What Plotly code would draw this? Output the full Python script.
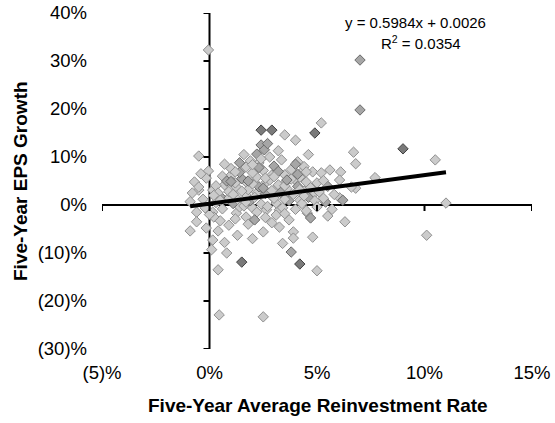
import plotly.graph_objects as go

# Five-year average reinvestment rate (%), five-year EPS growth (%), tone (0 light, 1 medium, 2 dark)
reinvestment_rate = [
    -0.05, 7.0, 7.0, 2.4, 2.9, 3.5, 4.0, 5.2, 4.9, 2.4, 2.55, 2.8, -0.5, 0.7, 1.6, 1.7, 6.7, 6.8, 7.7,
    9.0, 10.5, 11.0, 10.1, -0.05, -0.15, -0.7, 0.15, -0.5, 1.0, 0.7, 2.3, 2.2, 1.7, 1.25, 2.65, 2.9, 3.0,
    2.2, 1.7, 0.9, 3.35, 4.1, 4.3, 4.8, 5.2, 5.6, 6.1, 6.05, 6.8, 3.5, 4.0, 4.5, 5.0, 3.6, 4.2,
    5.4, 6.05, 4.8, -0.8, -0.5, -0.6, 0.15, -0.6, -0.9, -0.15, 0.4, 0.15, 0.8, 1.5, 0.4, 0.45, 2.5,
    2.5, 1.25, 1.7, 1.4, 2.0, 2.65, 3.25, 3.25, 3.7, 3.9, 3.9, 4.55, 4.7, 5.5, 6.3, 4.8, 3.4, 3.8,
    4.2, 5.0, 6.2, 6.6,
    0.3, 0.5, 0.6, 0.9, 1.1, 1.2, 1.3, 1.5, 1.6, 1.8,
    1.9, 2.0, 2.1, 2.2, 2.3, 2.4, 2.5, 2.6, 2.7, 2.8,
    2.9, 3.0, 3.1, 3.2, 3.3, 3.4, 3.5, 3.6, 3.7, 3.8,
    3.9, 4.0, 4.1, 4.2, 4.3, 4.4, 4.5, 4.6, 4.7, 4.9,
    5.0, 5.1, 5.3, 5.5, 5.7, 5.8, 0.2, 0.5, 0.9, 1.2,
    1.8, 2.1, 2.6, 2.9, 3.1, 3.5, 0.3, 0.6, 0.4, 1.0,
    1.4, -0.3, -0.2, 0.0, -0.4, -0.9, 1.9, 2.2, 3.2, 2.7,
    4.4, 4.6, 1.3, 0.7, 0.1, 2.0,
    0.8, 1.1, 1.4, 1.7, 2.0, 2.3, 2.6, 2.9, 3.2, 3.5,
    3.8, 4.1, 4.4, 0.5, 1.0, 1.5, 2.0, 2.5, 3.0, 3.5,
    4.0, 4.5, 1.2, 1.8, 2.4, 3.0, 3.6, 4.2, 0.2, 5.3,
]
eps_growth = [
    32.3, 30.2, 19.8, 15.6, 15.6, 14.6, 13.5, 17.1, 15.0, 12.5, 11.5, 10.0, 10.2, 8.5, 10.5, 7.9, 11.0, 8.6, 5.7,
    11.7, 9.4, 0.4, -6.3, 7.1, 5.6, 4.8, 3.1, 3.1, 6.2, 4.2, 8.75, 5.8, 4.8, 3.75, 4.8, 6.25, 3.1,
    2.5, 2.1, 1.5, 9.4, 9.0, 6.9, 6.9, 6.7, 7.3, 6.9, 5.2, 3.5, 4.6, 5.2, 4.8, 4.6, 1.7, 1.0,
    0.6, 1.5, 2.1, 2.5, 3.75, -1.5, -1.5, -3.5, -5.4, -4.8, -5.4, -7.3, -10.0, -11.9, -13.5, -22.9, -23.3,
    -5.6, -1.7, -2.5, -0.4, -0.6, -1.0, -1.0, -4.6, -3.1, -5.6, -6.9, -1.7, -2.7, -2.3, -3.5, -6.7, -8.0, -9.8,
    -12.3, -13.7, 1.0, 3.75,
    0.5, 1.8, -0.8, 2.8, 0.3, 4.6, 1.2, 5.5, -0.2, 3.2,
    0.9, 6.7, 1.6, -1.5, 3.8, 0.2, 7.2, 2.4, -0.3, 5.2,
    1.8, 8.1, 0.4, 4.2, 2.6, -0.6, 6.3, 3.4, 0.9, 7.4,
    2.2, -0.9, 3.9, 5.8, 0.3, 2.9, -1.2, 1.6, 3.6, 0.9,
    -0.4, 2.7, 1.4, 3.9, -0.9, 2.2, -2.5, -3.3, -4.2, -2.9,
    -4.0, -3.1, -2.6, -3.7, -2.1, -1.8, 4.0, 6.0, 2.5, 7.6,
    8.8, 1.2, -0.6, -2.0, 6.5, 0.7, 9.2, 10.6, 11.3, 12.8,
    8.0, 10.5, -6.3, -7.8, -9.3, -7.0,
    5.0, 2.2, 6.8, 0.6, 4.4, 7.8, 5.6, 3.0, 7.0, 4.0,
    5.4, 6.4, 1.9, 1.0, 4.9, 2.9, 8.4, 3.5, 5.9, 1.2,
    8.5, 6.9, 6.9, 5.0, 9.6, 1.4, 5.2, 3.2, 2.0, 5.1,
]
tone = [
    0, 1, 1, 2, 2, 0, 0, 0, 2, 1, 1, 0, 0, 0, 0, 0, 0, 0, 0,
    2, 0, 0, 0, 0, 0, 0, 0, 0, 0, 0, 0, 0, 0, 0, 0, 0, 0,
    0, 0, 0, 0, 0, 0, 0, 0, 0, 0, 0, 0, 0, 0, 0, 0, 0, 0,
    1, 0, 0, 0, 0, 0, 0, 0, 0, 0, 0, 0, 0, 2, 0, 0, 0,
    0, 0, 0, 0, 0, 0, 0, 0, 0, 0, 0, 0, 1, 0, 0, 0, 0, 1,
    2, 0, 1, 0,
    0, 1, 0, 0, 1, 0, 0, 1, 0, 0,
    1, 0, 0, 0, 1, 0, 0, 1, 0, 0,
    0, 1, 0, 0, 1, 0, 0, 0, 1, 0,
    0, 0, 1, 0, 0, 0, 0, 1, 0, 0,
    0, 0, 0, 1, 0, 0, 0, 0, 0, 0,
    0, 1, 0, 0, 0, 0, 0, 0, 0, 0,
    1, 0, 0, 0, 0, 0, 0, 1, 0, 1,
    0, 0, 0, 0, 0, 0,
    1, 0, 1, 0, 0, 1, 0, 0, 1, 0,
    0, 1, 0, 0, 1, 0, 0, 1, 0, 0,
    1, 0, 0, 1, 0, 0, 1, 0, 0, 0,
]

slope = 0.5984
intercept = 0.0026
r_squared = 0.0354

x_ticks = [-5, 0, 5, 10, 15]
x_tick_labels = ["(5)%", "0%", "5%", "10%", "15%"]
y_ticks = [-30, -20, -10, 0, 10, 20, 30, 40]
y_tick_labels = ["(30)%", "(20)%", "(10)%", "0%", "10%", "20%", "30%", "40%"]

fill_colors = ["#cbcbcb", "#a6a6a6", "#7a7a7a"]
edge_colors = ["#8f8f8f", "#6a6a6a", "#404040"]

FONT = "Liberation Sans, Arial, sans-serif"

n = min(len(reinvestment_rate), len(eps_growth), len(tone))

fig = go.Figure()

fig.add_trace(go.Scatter(
    x=reinvestment_rate[:n], y=eps_growth[:n], mode="markers",
    marker=dict(symbol="diamond", size=8,
                color=[fill_colors[t] for t in tone[:n]],
                line=dict(color=[edge_colors[t] for t in tone[:n]], width=1)),
    hoverinfo="skip", showlegend=False,
))

x_lo, x_hi = min(reinvestment_rate), max(reinvestment_rate)
fig.add_trace(go.Scatter(
    x=[x_lo, x_hi],
    y=[slope * x_lo + intercept * 100, slope * x_hi + intercept * 100],
    mode="lines", line=dict(color="black", width=4),
    hoverinfo="skip", showlegend=False,
))

shapes = [
    dict(type="line", xref="x", yref="y", x0=x_ticks[0], x1=x_ticks[-1], y0=0, y1=0,
         line=dict(color="black", width=2), layer="below"),
    dict(type="line", xref="x", yref="y", x0=0, x1=0, y0=y_ticks[0], y1=y_ticks[-1],
         line=dict(color="black", width=2), layer="below"),
]
for t in x_ticks:
    shapes.append(dict(type="line", xref="x", yref="y", x0=t, x1=t,
                       ysizemode="pixel", yanchor=0, y0=0, y1=-6,
                       line=dict(color="black", width=2)))
for t in y_ticks:
    shapes.append(dict(type="line", xref="x", yref="y", y0=t, y1=t,
                       xsizemode="pixel", xanchor=0, x0=-6, x1=0,
                       line=dict(color="black", width=2)))

fig.update_layout(
    width=555, height=423,
    margin=dict(l=102, r=23, t=13, b=74, autoexpand=False),
    paper_bgcolor="white", plot_bgcolor="white",
    font=dict(family=FONT, color="black"),
    shapes=shapes,
    hovermode=False,
    xaxis=dict(range=[x_ticks[0], x_ticks[-1]], tickvals=x_ticks, ticktext=x_tick_labels,
               showgrid=False, zeroline=False, showline=False, ticks="", automargin=False,
               ticklabelstandoff=10, ticklabeloverflow="allow",
               tickfont=dict(size=18.5, family=FONT)),
    yaxis=dict(range=[y_ticks[0], y_ticks[-1]], tickvals=y_ticks, ticktext=y_tick_labels,
               showgrid=False, zeroline=False, showline=False, ticks="", automargin=False,
               ticklabelstandoff=14, ticklabeloverflow="allow",
               tickfont=dict(size=18.5, family=FONT)),
    annotations=[
        dict(text="<b>Five-Year Average Reinvestment Rate</b>", xref="paper", yref="paper",
             x=0.502, y=-0.1667, xanchor="center", yanchor="middle", showarrow=False,
             font=dict(size=19, family=FONT)),
        dict(text="<b>Five-Year EPS Growth</b>", xref="paper", yref="paper",
             x=-0.1907, y=0.5, xanchor="center", yanchor="middle", showarrow=False,
             textangle=-90, font=dict(size=19, family=FONT)),
        dict(text=f"y = {slope}x + {intercept}", xref="paper", yref="paper",
             x=0.728, y=0.973, xanchor="center", yanchor="middle", showarrow=False,
             font=dict(size=15, family=FONT)),
        dict(text=f"R<sup>2</sup> = {r_squared}", xref="paper", yref="paper",
             x=0.742, y=0.911, xanchor="center", yanchor="middle", showarrow=False,
             font=dict(size=15, family=FONT)),
    ],
)

# remove the browser's default 8px page margin so the figure fills the window exactly
fig.write_html("out.html", config={"displayModeBar": False, "staticPlot": True},
               post_script="document.body.style.margin='0';")
